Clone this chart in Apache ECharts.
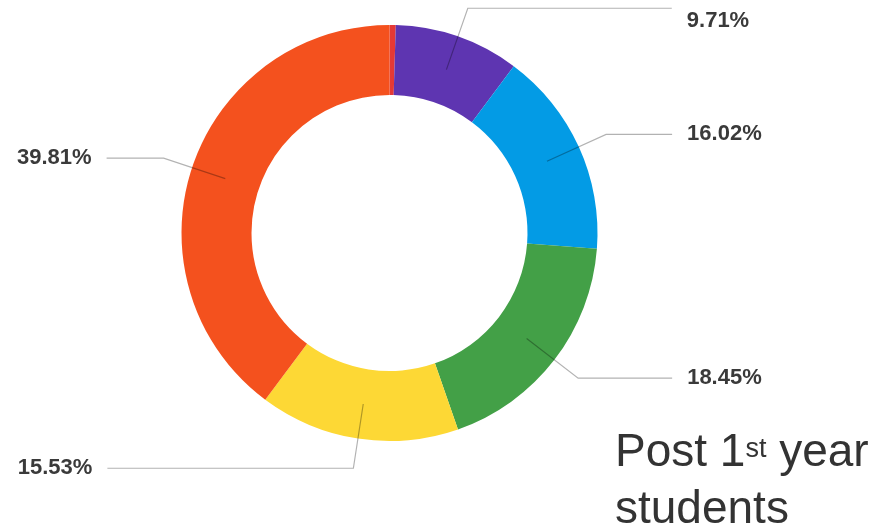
<!DOCTYPE html>
<html>
<head>
<meta charset="utf-8">
<script src="https://cdn.jsdelivr.net/npm/echarts@6/dist/echarts.min.js"></script>
<style>
html,body{margin:0;padding:0;background:#fff;}
#main{width:894px;height:532px;}
</style>
</head>
<body>
<div id="main"></div>
<script>
// Data
const categories = ['Other', 'Group A', 'Group B', 'Group C', 'Group D', 'Group E'];
const shares = [0.48, 9.71, 16.02, 18.45, 15.53, 39.81];
const showLabel = [false, true, true, true, true, true];
const colors = ['#e53935', '#5e35b1', '#039be5', '#43a047', '#fdd835', '#f4511e'];
const titleLine1 = 'Post 1';
const titleSup = 'st';
const titleLine1b = ' year';
const titleLine2 = 'students';

const chart = echarts.init(document.getElementById('main'), null, {renderer: 'canvas'});

const CENTER = [389.5, 233];
const FONT = 'Liberation Sans, Arial, sans-serif';

const ringData = categories.map((c, i) => ({
  name: c,
  value: shares[i],
  itemStyle: {color: colors[i]}
}));

// leader-line horizontal lengths (style)
const lineLen2 = [0, 204, 66, 94, 246, 57];

const labelData = categories.map((c, i) => {
  const d = {
    name: c,
    value: shares[i],
    itemStyle: {color: 'rgba(0,0,0,0)'},
    label: {show: showLabel[i]},
    labelLine: {show: showLabel[i], length2: lineLen2[i]}
  };
  if (i === 1) {
    // text sits a little below its leader line
    d.label.formatter = '{g|}\n{v|{c}%}';
  }
  return d;
});

const option = {
  backgroundColor: '#ffffff',
  animation: false,
  title: {
    left: 610,
    top: 420,
    itemGap: 0,
    text: '{a|' + titleLine1 + '}{s|' + titleSup + '}{a|' + titleLine1b + '}\n{a|' + titleLine2 + '}',
    textStyle: {
      fontWeight: 'normal',
      rich: {
        a: {fontFamily: FONT, fontSize: 46, fontWeight: 'normal', color: '#333333', lineHeight: 57},
        s: {fontFamily: FONT, fontSize: 27, fontWeight: 'normal', color: '#333333', verticalAlign: 'top', lineHeight: 57, padding: [11, 0, 0, 0]}
      }
    }
  },
  series: [
    {
      type: 'pie',
      center: CENTER,
      radius: [138, 208],
      startAngle: 90,
      clockwise: true,
      silent: true,
      avoidLabelOverlap: false,
      label: {show: false},
      labelLine: {show: false},
      emphasis: {disabled: true},
      data: ringData,
      z: 2
    },
    {
      type: 'pie',
      center: CENTER,
      radius: [0, 173],
      startAngle: 90,
      clockwise: true,
      silent: true,
      avoidLabelOverlap: false,
      emphasis: {disabled: true},
      label: {
        show: true,
        position: 'outer',
        alignTo: 'none',
        distanceToLabelLine: 15,
        formatter: '{c}%',
        fontFamily: FONT,
        fontSize: 22,
        fontWeight: 'bold',
        color: '#3a3a3a',
        rich: {
          g: {height: 25, lineHeight: 25, fontSize: 10},
          v: {fontFamily: FONT, fontSize: 22, fontWeight: 'bold', color: '#3a3a3a'}
        }
      },
      labelLine: {
        show: true,
        length: 65,
        length2: 10,
        smooth: false,
        lineStyle: {color: 'rgba(0,0,0,0.3)', width: 1.2}
      },
      data: labelData,
      z: 3
    }
  ]
};
chart.setOption(option);
</script>
</body>
</html>
